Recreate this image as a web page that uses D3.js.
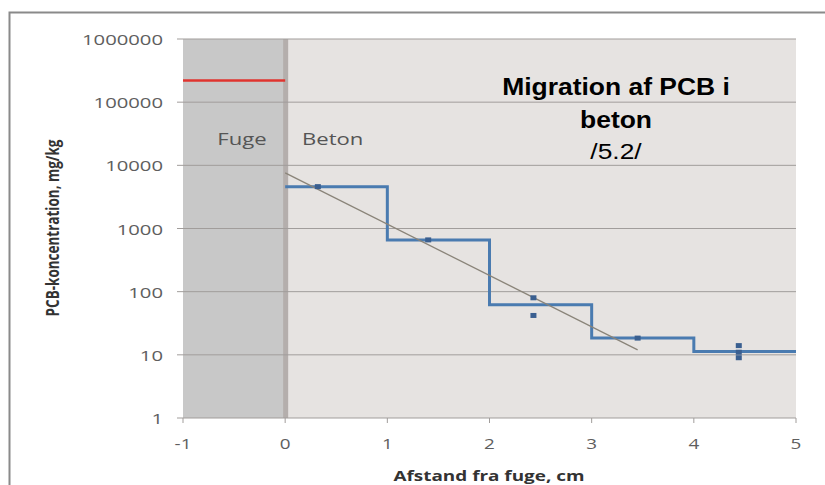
<!DOCTYPE html>
<html>
<head>
<meta charset="utf-8">
<script src="https://cdn.jsdelivr.net/npm/d3@7"></script>
<style>
  body { margin: 0; background: #fff; }
  text { font-family: "Open Sans", sans-serif; }
</style>
</head>
<body>
<div id="chart"></div>
<script>
// Data
const stepX = [0, 1, 2, 3, 4, 5];
const stepY = [4600, 660, 62, 18.4, 11.3, 11.3];
const pointX = [0.32, 1.4, 2.43, 2.43, 3.45, 4.44, 4.44, 4.44];
const pointY = [4600, 660, 80, 42, 18.4, 14, 11, 9];
const trendX = [0, 3.45];
const trendY = [7600, 12];
const jointX = [-1, 0];
const jointY = [220000, 220000];
const yTicks = [1, 10, 100, 1000, 10000, 100000, 1000000];
const xTicks = [-1, 0, 1, 2, 3, 4, 5];

const W = 825, H = 485;
const SX = 1.35; // the original picture is stretched sideways
const svg = d3.select("#chart").append("svg")
    .attr("width", W).attr("height", H);

const x = d3.scaleLinear().domain([-1, 5]).range([183, 796]);
const y = d3.scaleLog().domain([1, 1e6]).range([418, 39]);

// text placed at (px, py), squeezed/stretched by sx
function label(px, py, txt, sx, anchor) {
    return svg.append("text")
        .attr("transform", `translate(${px},${py}) scale(${sx},1)`)
        .attr("text-anchor", anchor || "start")
        .text(txt);
}

// outer frame (top and left edges visible)
svg.append("path")
    .attr("d", `M9.5,${H} V12.5 H${W}`)
    .attr("fill", "none")
    .attr("stroke", "#8a8a8a")
    .attr("stroke-width", 2);

// plot backgrounds
svg.append("rect")
    .attr("x", x(0)).attr("y", y(1e6))
    .attr("width", x(5) - x(0)).attr("height", y(1) - y(1e6))
    .attr("fill", "#e6e3e1");
svg.append("rect")
    .attr("x", x(-1)).attr("y", y(1e6))
    .attr("width", x(0) - x(-1)).attr("height", y(1) - y(1e6))
    .attr("fill", "#c8c8c8");
svg.append("rect")
    .attr("x", x(0) - 2).attr("y", y(1e6))
    .attr("width", 5).attr("height", y(1) - y(1e6))
    .attr("fill", "#b4aeac");

// gridlines + y ticks
svg.append("g").selectAll("line")
    .data(yTicks).enter().append("line")
    .attr("x1", x(-1) - 6).attr("x2", x(5))
    .attr("y1", d => y(d)).attr("y2", d => y(d))
    .attr("stroke", "#a19d9b").attr("stroke-width", 1);

yTicks.forEach(d => {
    label(163, y(d) + 6, d, SX, "end")
        .attr("font-size", 15).attr("fill", "#5e5e5e");
});

// x ticks
svg.append("g").selectAll("line")
    .data(xTicks).enter().append("line")
    .attr("x1", d => x(d)).attr("x2", d => x(d))
    .attr("y1", y(1)).attr("y2", y(1) + 5)
    .attr("stroke", "#a19d9b");

xTicks.forEach(d => {
    label(x(d), 449, d, SX, "middle")
        .attr("font-size", 14).attr("fill", "#5e5e5e");
});

// region labels
label(242, 145, "Fuge", 1.3, "middle").attr("font-size", 17).attr("fill", "#555");
label(302, 145, "Beton", 1.3).attr("font-size", 17).attr("fill", "#555");

// red line in joint
svg.append("line")
    .attr("x1", x(jointX[0])).attr("x2", x(jointX[1]))
    .attr("y1", y(jointY[0])).attr("y2", y(jointY[1]))
    .attr("stroke", "#e0342f").attr("stroke-width", 2.5);

// step line
const stepLine = d3.line()
    .x(d => x(d[0])).y(d => y(d[1]))
    .curve(d3.curveStepAfter);
svg.append("path")
    .attr("d", stepLine(stepX.map((v, i) => [v, stepY[i]])))
    .attr("fill", "none")
    .attr("stroke", "#4a7bb0").attr("stroke-width", 3);

// trend line
svg.append("line")
    .attr("x1", x(trendX[0])).attr("y1", y(trendY[0]))
    .attr("x2", x(trendX[1])).attr("y2", y(trendY[1]))
    .attr("stroke", "#8a8479").attr("stroke-width", 1.3);

// measured points
svg.append("g").selectAll("rect")
    .data(pointX.map((v, i) => [v, pointY[i]])).enter().append("rect")
    .attr("x", d => x(d[0]) - 3).attr("y", d => y(d[1]) - 2.5)
    .attr("width", 6).attr("height", 5)
    .attr("fill", "#3a5f90");

// title
const tf = "'Liberation Sans', Arial, sans-serif";
label(616, 95, "Migration af PCB i", 1.15, "middle")
    .style("font-family", tf).attr("font-size", 23).attr("font-weight", "bold");
label(616, 128, "beton", 1.15, "middle")
    .style("font-family", tf).attr("font-size", 23).attr("font-weight", "bold");
label(616, 159, "/5.2/", 1.2, "middle")
    .style("font-family", tf).attr("font-size", 22);

// axis titles
label(489, 481, "Afstand fra fuge, cm", SX, "middle")
    .attr("font-size", 14).attr("font-weight", "bold").attr("fill", "#333");

svg.append("text")
    .attr("transform", `translate(59,228) rotate(-90) scale(1,${SX})`)
    .attr("text-anchor", "middle")
    .attr("font-size", 13.5).attr("font-weight", "bold").attr("fill", "#333")
    .text("PCB-koncentration, mg/kg");
</script>
</body>
</html>
